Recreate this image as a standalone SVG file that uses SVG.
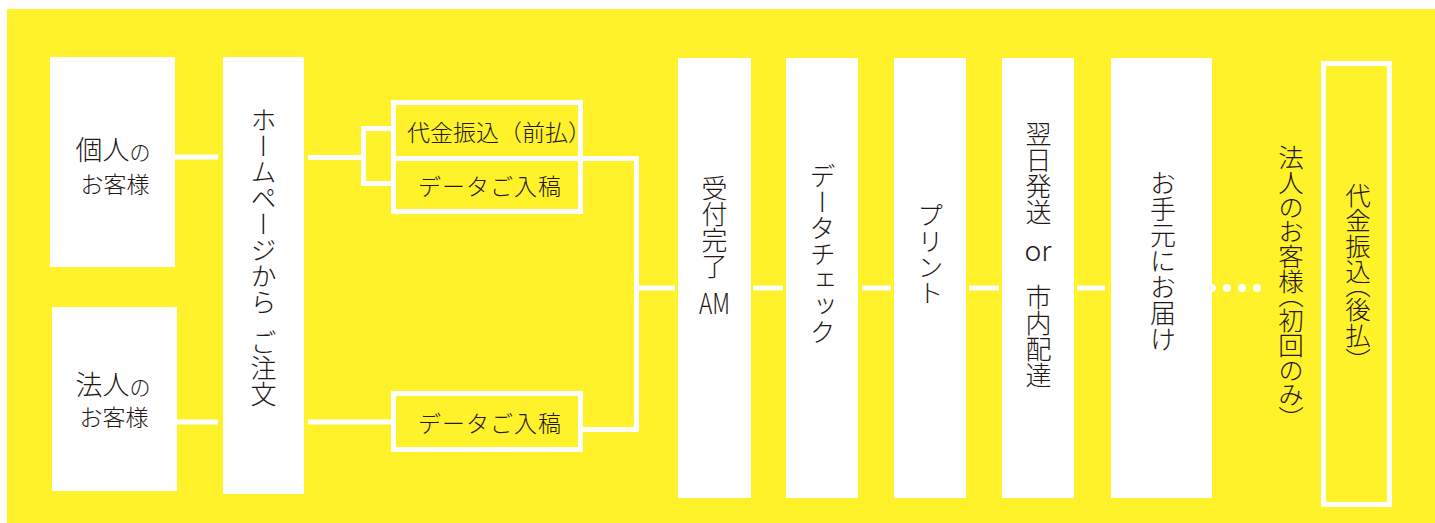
<svg xmlns="http://www.w3.org/2000/svg" width="1435" height="523" viewBox="0 0 1435 523">
<defs>
<style>
.bg{fill:#fff22b}
.box{fill:#ffffff}
.obox{fill:none;stroke:#ffffff;stroke-width:5}
.ln{fill:none;stroke:#ffffff;stroke-width:5}
.dot{fill:#ffffff}
text{font-family:"Noto Sans CJK JP","Noto Sans",sans-serif;fill:#231815;font-weight:300}
.v{writing-mode:vertical-rl;text-anchor:middle;font-size:26px}
.vs{writing-mode:vertical-rl;text-anchor:middle;font-size:25.5px;font-feature-settings:"vpal" 1}
.h{font-size:23px}
.c{text-anchor:middle}
</style>
</defs>
<rect class="bg" x="7" y="9" width="1428" height="514"/>

<g id="connectors">
<line class="ln" x1="175" y1="157" x2="218" y2="157"/>
<line class="ln" x1="177" y1="422" x2="218" y2="422"/>
<polyline class="ln" points="308,157.5 363.5,157.5"/>
<polyline class="ln" points="391,128.5 363.5,128.5 363.5,183.5 391,183.5"/>
<line class="ln" x1="308" y1="422" x2="391" y2="422"/>
<polyline class="ln" points="583,158.5 636.5,158.5 636.5,429.5 583,429.5"/>
<line class="ln" x1="636.5" y1="288" x2="675" y2="288"/>
<line class="ln" x1="753" y1="288" x2="783" y2="288"/>
<line class="ln" x1="862" y1="288" x2="891" y2="288"/>
<line class="ln" x1="969" y1="288" x2="999" y2="288"/>
<line class="ln" x1="1077" y1="288" x2="1105" y2="288"/>
<circle class="dot" cx="1212" cy="288" r="4"/>
<circle class="dot" cx="1227" cy="288" r="4"/>
<circle class="dot" cx="1242" cy="288" r="4"/>
<circle class="dot" cx="1257" cy="288" r="4"/>
</g>

<g id="kojin">
<rect class="box" x="50" y="57" width="125" height="210"/>
<text x="113" y="160" class="c"><tspan font-size="27">個人</tspan><tspan font-size="21">の</tspan></text>
<text x="115" y="193" class="c" font-size="23">お客様</text>
</g>

<g id="hojin">
<rect class="box" x="52" y="307" width="125" height="184"/>
<text x="113" y="395" class="c"><tspan font-size="27">法人</tspan><tspan font-size="21">の</tspan></text>
<text x="114" y="426" class="c" font-size="23">お客様</text>
</g>

<g id="homepage">
<rect class="box" x="223" y="57" width="81" height="437"/>
<text x="263.5" y="211" class="v">ホームページから</text>
<text x="263.5" y="368.5" class="v">ご注文</text>
</g>

<g id="payment-front">
<rect class="obox" x="393.5" y="102.5" width="187" height="109"/>
<line class="ln" x1="391" y1="158.5" x2="583" y2="158.5"/>
<text x="407" y="141" class="h" font-size="21.5">代金振込（前払）</text>
<text x="490" y="195" class="h c" letter-spacing="1">データご入稿</text>
</g>

<g id="data-lower">
<rect class="obox" x="393.5" y="393.5" width="187" height="56"/>
<text x="490" y="432" class="h c" letter-spacing="1">データご入稿</text>
</g>

<g id="uketsuke">
<rect class="box" x="678" y="58" width="73" height="440"/>
<text x="714.5" y="227.5" class="v">受付完了</text>
<text x="714.5" y="314" class="c" font-size="28" textLength="31" lengthAdjust="spacingAndGlyphs">AM</text>
</g>

<g id="datacheck">
<rect class="box" x="786" y="58" width="72" height="440"/>
<text x="822.5" y="254.5" class="v">データチェック</text>
</g>

<g id="print">
<rect class="box" x="894" y="58" width="72" height="440"/>
<text x="930.5" y="254.5" class="v">プリント</text>
</g>

<g id="shipping">
<rect class="box" x="1002" y="58" width="72" height="440"/>
<text x="1038.5" y="173.5" class="v">翌日発送</text>
<text x="1038" y="261" class="c" font-size="28" textLength="27" lengthAdjust="spacingAndGlyphs">or</text>
<text x="1038.5" y="336.5" class="v">市内配達</text>
</g>

<g id="delivery">
<rect class="box" x="1111" y="58" width="101" height="440"/>
<text x="1163" y="261" class="v">お手元にお届け</text>
</g>

<g id="hojin-note">
<text x="1291" y="282" class="vs">法人のお客様（初回のみ）</text>
</g>

<g id="payment-after">
<rect class="obox" x="1323.5" y="63.5" width="66" height="441"/>
<text x="1358" y="271.5" class="vs" font-size="26">代金振込（後払）</text>
</g>
</svg>
